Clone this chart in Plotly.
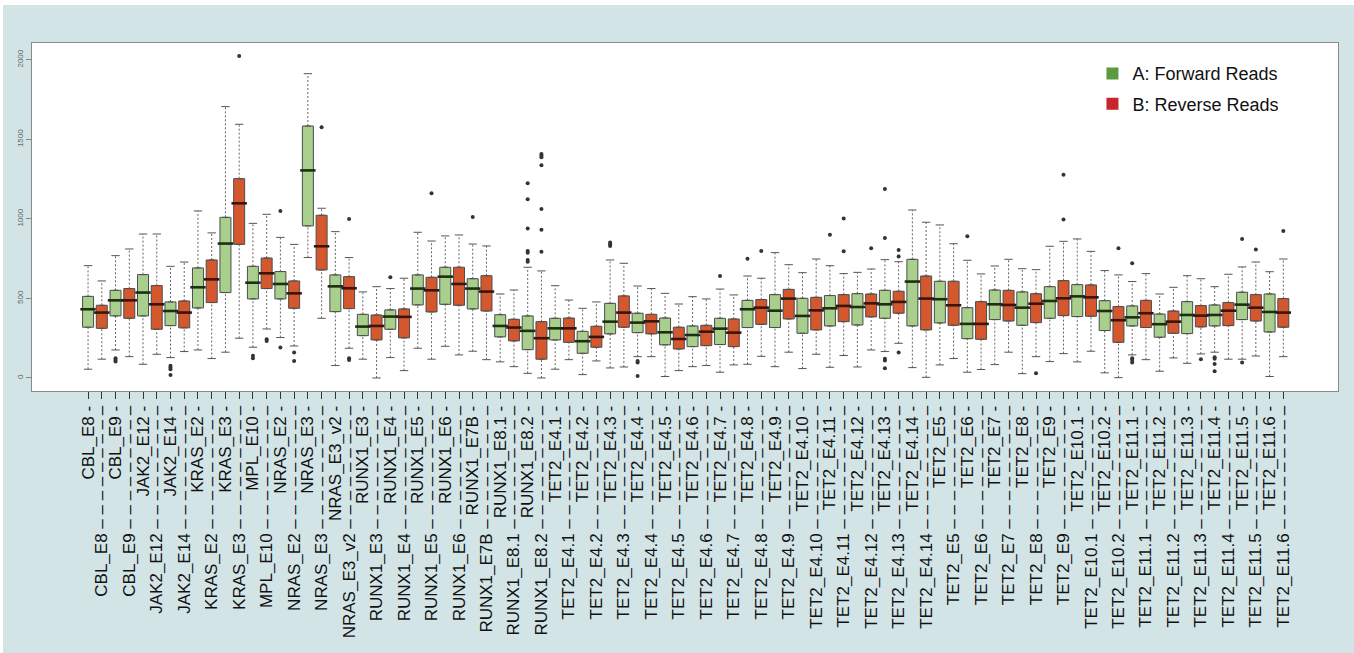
import plotly.graph_objects as go

categories = ["CBL_E8", "CBL_E9", "JAK2_E12", "JAK2_E14", "KRAS_E2", "KRAS_E3", "MPL_E10",
              "NRAS_E2", "NRAS_E3", "NRAS_E3_v2", "RUNX1_E3", "RUNX1_E4", "RUNX1_E5", "RUNX1_E6",
              "RUNX1_E7B", "RUNX1_E8.1", "RUNX1_E8.2", "TET2_E4.1", "TET2_E4.2", "TET2_E4.3",
              "TET2_E4.4", "TET2_E4.5", "TET2_E4.6", "TET2_E4.7", "TET2_E4.8", "TET2_E4.9",
              "TET2_E4.10", "TET2_E4.11", "TET2_E4.12", "TET2_E4.13", "TET2_E4.14", "TET2_E5",
              "TET2_E6", "TET2_E7", "TET2_E8", "TET2_E9", "TET2_E10.1", "TET2_E10.2", "TET2_E11.1",
              "TET2_E11.2", "TET2_E11.3", "TET2_E11.4", "TET2_E11.5", "TET2_E11.6"]

# A: Forward reads (whisker low, Q1, median, Q3, whisker high)
fwd_low = [55, 176, 86, 128, 176, 162, 193, 254, 757, 78, 118, 128, 187, 199, 168, 101, 29, 55, 21, 63,
           134, 9, 71, 36, 86, 71, 59, 67, 69, 166, 65, 82, 36, 84, 27, 103, 101, 32, 145, 42, 92, 162, 118, 9]
fwd_q1 = [319, 390, 390, 329, 440, 537, 497, 497, 956, 417, 266, 306, 459, 463, 434, 258, 178, 239, 155, 277,
          285, 208, 197, 210, 317, 317, 281, 327, 333, 375, 327, 346, 247, 367, 331, 375, 386, 298, 327, 256, 279, 327, 367, 289]
fwd_med = [432, 488, 537, 421, 570, 845, 599, 591, 1305, 576, 323, 386, 562, 637, 562, 327, 296, 312, 231, 354,
           348, 287, 270, 310, 432, 423, 390, 438, 446, 463, 606, 495, 340, 463, 442, 484, 513, 421, 381, 338, 396, 396, 461, 415]
fwd_q3 = [513, 551, 650, 478, 692, 1010, 702, 669, 1584, 648, 400, 428, 648, 696, 624, 398, 390, 375, 293, 469,
          407, 377, 327, 375, 488, 524, 501, 518, 530, 551, 746, 608, 442, 553, 541, 574, 587, 486, 453, 402, 480, 459, 539, 528]
fwd_high = [706, 769, 905, 702, 1050, 1706, 972, 884, 1913, 920, 541, 562, 916, 893, 842, 528, 696, 580, 438, 742,
            578, 532, 511, 559, 641, 788, 662, 706, 664, 744, 1056, 962, 740, 704, 687, 828, 874, 675, 606, 528, 643, 574, 698, 668]
fwd_out = [[], [124, 113, 103], [], [76, 65, 55, 19], [], [], [139, 124], [1050, 191], [], [], [], [633], [], [], [1012], [],
           [1224, 1123, 939, 798, 788, 742, 731], [], [], [851, 840, 830], [107, 97, 13], [], [], [641], [750], [], [],
           [901], [], [1188, 880, 120, 109, 61], [], [], [891], [], [], [], [], [], [721, 124, 113, 97], [], [],
           [130, 120, 88, 42], [874, 97], []]

# B: Reverse reads
rev_low = [118, 134, 149, 166, 122, 250, 308, 201, 375, 187, 0, 46, 118, 145, 115, 71, 0, 115, 107, 69,
           134, 46, 78, 82, 136, 162, 149, 141, 176, 218, 4, 122, 53, 162, 134, 153, 168, 2, 115, 126, 151, 118, 138, 134]
rev_q1 = [312, 375, 306, 315, 474, 840, 562, 438, 679, 436, 239, 252, 415, 457, 421, 233, 118, 224, 193, 319,
          277, 182, 203, 197, 337, 371, 302, 354, 384, 407, 302, 331, 243, 358, 348, 392, 388, 224, 317, 281, 321, 329, 358, 319]
rev_med = [411, 488, 463, 411, 620, 1098, 658, 532, 828, 564, 327, 384, 551, 591, 543, 317, 250, 312, 258, 411,
           356, 245, 291, 285, 442, 499, 425, 453, 469, 478, 499, 457, 340, 459, 467, 501, 507, 363, 407, 354, 392, 423, 442, 411]
rev_q3 = [457, 562, 581, 484, 742, 1253, 754, 610, 1023, 637, 396, 434, 633, 696, 643, 369, 354, 377, 325, 516,
          400, 319, 331, 371, 493, 557, 507, 524, 528, 545, 641, 608, 480, 551, 530, 612, 585, 449, 488, 421, 455, 474, 524, 499]
rev_high = [610, 811, 905, 729, 912, 1595, 1029, 840, 1067, 757, 574, 627, 861, 899, 830, 553, 673, 490, 478, 721,
            562, 465, 497, 522, 627, 712, 748, 656, 685, 731, 979, 844, 654, 746, 681, 859, 796, 648, 656, 570, 624, 652, 729, 748]
rev_out = [[], [], [], [], [], [2024], [243, 233], [160, 107], [1576], [1000, 124, 113], [], [], [1161], [], [], [],
           [1408, 1398, 1387, 1337, 1062, 932, 794], [], [], [], [], [], [], [], [798], [], [], [1002, 796], [815],
           [805, 763, 160], [], [], [], [], [29], [1278, 997], [], [815], [], [], [118], [], [807], [924]]

legend_names = ["A: Forward Reads", "B: Reverse Reads"]

n = len(categories)
x_fwd = [2 * i + 1 for i in range(n)]
x_rev = [2 * i + 2 for i in range(n)]

fig = go.Figure()

series = [
    (x_fwd, fwd_low, fwd_q1, fwd_med, fwd_q3, fwd_high, fwd_out, "#a8d08c", "#1e2e12"),
    (x_rev, rev_low, rev_q1, rev_med, rev_q3, rev_high, rev_out, "#d5572d", "#3a150a"),
]

# whiskers (dashed) and caps
for xs, lo, q1, med, q3, hi, out, fill, mcol in series:
    wx, wy = [], []
    for x, a, b, c, d in zip(xs, lo, q1, q3, hi):
        wx += [x, x, None, x, x, None]
        wy += [a, b, None, c, d, None]
    fig.add_trace(go.Scatter(x=wx, y=wy, mode="lines", showlegend=False, hoverinfo="skip",
                             line=dict(color="#666666", width=1, dash="2px,2px")))
    fig.add_trace(go.Scatter(x=xs + xs, y=lo + hi, mode="markers", showlegend=False, hoverinfo="skip",
                             marker=dict(symbol="line-ew", size=6, line=dict(color="#555555", width=1))))

# boxes
for xs, lo, q1, med, q3, hi, out, fill, mcol in series:
    fig.add_trace(go.Box(x=xs, q1=q1, median=med, q3=q3, lowerfence=q1, upperfence=q3,
                         width=0.8, fillcolor=fill, line=dict(color="#4d4d4d", width=1),
                         boxpoints=False, showlegend=False, hoverinfo="skip"))
    fig.add_trace(go.Scatter(x=xs, y=med, mode="markers", showlegend=False, hoverinfo="skip",
                             marker=dict(symbol="line-ew", size=11, line=dict(color=mcol, width=2.6))))

# outliers
ox, oy = [], []
for xs, lo, q1, med, q3, hi, out, fill, mcol in series:
    for x, pts in zip(xs, out):
        ox += [x] * len(pts)
        oy += pts
fig.add_trace(go.Scatter(x=ox, y=oy, mode="markers", showlegend=False, hoverinfo="skip",
                         marker=dict(symbol="circle", size=4, color="#333333")))

# legend entries
for k, (name, col) in enumerate(zip(legend_names, ["#5b9b3d", "#c6262e"])):
    fig.add_trace(go.Scatter(x=[None], y=[None], mode="markers", name=name, legendgroup=f"g{k}",
                             marker=dict(symbol="square", size=12, color=col)))

tickvals, ticktext = [], []
dashes = " " + "– " * 8 + "–"
for i, c in enumerate(categories):
    tickvals += [x_fwd[i], x_rev[i]]
    ticktext += [c + " -", c + dashes]

fig.update_layout(
    width=1351, height=648,
    margin=dict(l=29, r=16, t=38, b=262, autoexpand=False),
    paper_bgcolor="#d3e4e6", plot_bgcolor="#ffffff",
    boxmode="overlay",
    font=dict(family="Liberation Sans, Arial, sans-serif", color="#111111"),
    legend=dict(x=0.812, y=0.965, xanchor="left", yanchor="top", bgcolor="rgba(0,0,0,0)",
                font=dict(size=18, color="#111111"), tracegroupgap=4),
    xaxis=dict(range=[-3.08, 91.98], tickmode="array", tickvals=tickvals, ticktext=ticktext,
               tickangle=-90, tickfont=dict(size=17, color="#111111"), ticks="outside", ticklen=7,
               tickcolor="#333333", showgrid=False, zeroline=False, showline=True, mirror=True,
               linecolor="#8a8a8a", linewidth=1, automargin=False),
    yaxis=dict(range=[-82, 2106], tickmode="array", tickvals=[0, 500, 1000, 1500, 2000],
               ticktext=["0", "500", "1000", "1500", "2000"], tickangle=-90,
               tickfont=dict(size=8, color="#666666"), ticks="outside", ticklen=5, tickcolor="#888888",
               showgrid=False, zeroline=False, showline=True, mirror=True, linecolor="#8a8a8a",
               linewidth=1, automargin=False),
)

fig.write_html("out.html", post_script="document.body.style.margin='5px 0 0 3px';")
